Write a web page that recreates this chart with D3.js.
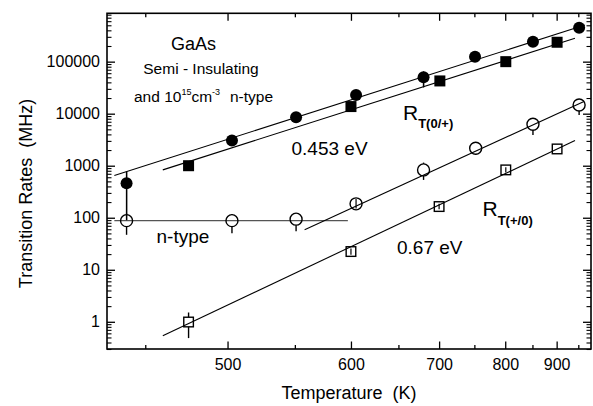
<!DOCTYPE html>
<html>
<head>
<meta charset="utf-8">
<script src="https://cdn.jsdelivr.net/npm/d3@7"></script>
<style>
  html, body { margin: 0; padding: 0; background: #fff; }
  svg { display: block; }
  text { font-family: "Liberation Sans", Arial, Helvetica, sans-serif; fill: #000; }
</style>
</head>
<body>
<svg id="chart" width="593" height="406"></svg>
<script>
// ---------- data (temperature in K, rates in MHz) ----------
const siCircleT    = [440, 503, 551, 605, 680, 751, 851, 952];
const siCircleRate = [460, 3040, 8550, 22900, 50100, 124800, 242000, 450000];
const siCircleLo   = [90, null, null, null, 32200, null, null, null];
const siCircleHi   = [771, null, null, null, 64300, null, null, null];

const siSquareT    = [475, 600, 701, 801, 901];
const siSquareRate = [1000, 13700, 42600, 100000, 236000];
const siSquareLo   = [860, null, null, null, null];
const siSquareHi   = [1000, null, null, null, null];

const nCircleT     = [440, 503, 551, 605, 680, 752, 851, 952];
const nCircleRate  = [88, 88, 94, 185, 831, 2170, 6270, 14700];
const nCircleLo    = [47, 50.6, 55, 150, 533, 1615, 3910, 9460];
const nCircleHi    = [120, 118.6, 120, 230, 1148, 2710, 7830, 19000];

const nSquareT     = [475, 600, 700, 801, 901];
const nSquareRate  = [0.99, 22.4, 164, 831, 2100];
const nSquareLo    = [0.486, 19.5, 145, 740, null];
const nSquareHi    = [1.51, 25.5, 185, 930, null];

// fit lines: [T start, T end], [rate start, rate end]
const fitSICircleT = [433.7, 966.5], fitSICircleR = [646, 507000];
const fitSISquareT = [459.8, 942],   fitSISquareR = [831, 281000];
const fitNFlatT    = [433.7, 597],   fitNFlatR    = [88, 88];
const fitNCircleT  = [558.1, 964],   fitNCircleR  = [58.5, 17200];
const fitNSquareT  = [459.8, 942],   fitNSquareR  = [0.538, 3040];

const xTickMajor = [500, 600, 700, 800, 900];
const xTickMinor = [450, 550, 650, 750, 850, 950];
const yTickMajor = [1, 10, 100, 1000, 10000, 100000];

// ---------- layout ----------
const svg = d3.select("#chart");
const L = 107, R = 591, T = 13.3, B = 349;

// x is linear in 1/T (Arrhenius), labelled in temperature
const xInv = d3.scaleLinear().domain([1/430, 1/982]).range([L, R]);
const x = t => xInv(1 / t);
const y = d3.scaleLog().domain([0.3, 850000]).range([B, T]);

// minor y ticks
const yMinor = [];
for (let e = -1; e <= 5; e++) {
  for (let m = 2; m <= 9; m++) {
    const v = m * Math.pow(10, e);
    if (v >= 0.3 && v <= 850000) yMinor.push(v);
  }
}

const g = svg.append("g");
const FONT = '"Liberation Sans", Arial, sans-serif';

// ---------- axes (ticks inward) ----------
g.append("g").attr("transform", `translate(${L},0)`)
  .call(d3.axisLeft(y).tickValues(yTickMajor).tickSize(-8).tickPadding(7)
    .tickFormat(d3.format("d")))
  .call(s => s.select(".domain").remove())
  .call(s => s.selectAll("line").attr("stroke-width", 1.3))
  .call(s => s.selectAll("text").attr("font-size", "16px").attr("font-family", FONT));
g.append("g").attr("transform", `translate(${L},0)`)
  .call(d3.axisLeft(y).tickValues(yMinor).tickSize(-4.5).tickFormat(""))
  .call(s => s.select(".domain").remove())
  .call(s => s.selectAll("line").attr("stroke-width", 1.1));

g.append("g").attr("transform", `translate(${R},0)`)
  .call(d3.axisRight(y).tickValues(yTickMajor).tickSize(-8).tickFormat(""))
  .call(s => s.select(".domain").remove())
  .call(s => s.selectAll("line").attr("stroke-width", 1.3));
g.append("g").attr("transform", `translate(${R},0)`)
  .call(d3.axisRight(y).tickValues(yMinor).tickSize(-4.5).tickFormat(""))
  .call(s => s.select(".domain").remove())
  .call(s => s.selectAll("line").attr("stroke-width", 1.1));

// bottom / top axes on 1/T scale
const invMajor = xTickMajor.map(t => 1 / t);
const invMinor = xTickMinor.map(t => 1 / t);
g.append("g").attr("transform", `translate(0,${B})`)
  .call(d3.axisBottom(xInv).tickValues(invMajor).tickSize(-7.5).tickPadding(9.5)
    .tickFormat((d, i) => xTickMajor[i]))
  .call(s => s.select(".domain").remove())
  .call(s => s.selectAll("line").attr("stroke-width", 1.3))
  .call(s => s.selectAll("text").attr("font-size", "16px").attr("font-family", FONT));
g.append("g").attr("transform", `translate(0,${B})`)
  .call(d3.axisBottom(xInv).tickValues(invMinor).tickSize(-4).tickFormat(""))
  .call(s => s.select(".domain").remove())
  .call(s => s.selectAll("line").attr("stroke-width", 1.3));
g.append("g").attr("transform", `translate(0,${T})`)
  .call(d3.axisTop(xInv).tickValues(invMajor).tickSize(-7.5).tickFormat(""))
  .call(s => s.select(".domain").remove())
  .call(s => s.selectAll("line").attr("stroke-width", 1.3));
g.append("g").attr("transform", `translate(0,${T})`)
  .call(d3.axisTop(xInv).tickValues(invMinor).tickSize(-4).tickFormat(""))
  .call(s => s.select(".domain").remove())
  .call(s => s.selectAll("line").attr("stroke-width", 1.3));

// frame
g.append("rect").attr("x", L).attr("y", T).attr("width", R - L).attr("height", B - T)
  .attr("fill", "none").attr("stroke", "#000").attr("stroke-width", 1.6);

// ---------- fit lines ----------
const fits = [
  [fitSICircleT, fitSICircleR, "#000"],
  [fitSISquareT, fitSISquareR, "#000"],
  [fitNFlatT, fitNFlatR, "#555"],
  [fitNCircleT, fitNCircleR, "#000"],
  [fitNSquareT, fitNSquareR, "#000"]
];
const line = d3.line().x(d => x(d[0])).y(d => y(d[1]));
fits.forEach(([ts, rs, c]) => {
  g.append("path").datum(ts.map((t, i) => [t, rs[i]]))
    .attr("d", line).attr("fill", "none").attr("stroke", c).attr("stroke-width", 1.1);
});

// ---------- error bars (drawn from symbol edge outward, Origin style) ----------
function errBars(ts, vals, lo, hi, gap) {
  ts.forEach((t, i) => {
    if (lo[i] == null) return;
    const cy = y(vals[i]);
    const yl = y(lo[i]), yh = y(hi[i]);
    if (yl > cy + gap)
      g.append("line").attr("x1", x(t)).attr("x2", x(t)).attr("y1", cy + gap).attr("y2", yl)
        .attr("stroke", "#000").attr("stroke-width", 1.4);
    if (yh < cy - gap)
      g.append("line").attr("x1", x(t)).attr("x2", x(t)).attr("y1", cy - gap).attr("y2", yh)
        .attr("stroke", "#000").attr("stroke-width", 1.4);
    if (gap === 0 || (yl <= cy + gap && yh >= cy - gap))
      g.append("line").attr("x1", x(t)).attr("x2", x(t)).attr("y1", yl).attr("y2", yh)
        .attr("stroke", "#000").attr("stroke-width", 1.2);
  });
}
errBars(siCircleT, siCircleRate, siCircleLo, siCircleHi, 0);
errBars(siSquareT, siSquareRate, siSquareLo, siSquareHi, 0);
errBars(nCircleT, nCircleRate, nCircleLo, nCircleHi, 6);
errBars(nSquareT, nSquareRate, nSquareLo, nSquareHi, 4.8);

// ---------- markers ----------
g.selectAll(".fc").data(siCircleT).join("circle")
  .attr("cx", d => x(d)).attr("cy", (d, i) => y(siCircleRate[i])).attr("r", 6)
  .attr("fill", "#000");
g.selectAll(".fs").data(siSquareT).join("rect")
  .attr("x", d => x(d) - 5.5).attr("y", (d, i) => y(siSquareRate[i]) - 5.5)
  .attr("width", 11).attr("height", 11).attr("fill", "#000");
g.selectAll(".oc").data(nCircleT).join("circle")
  .attr("cx", d => x(d)).attr("cy", (d, i) => y(nCircleRate[i])).attr("r", 6)
  .attr("fill", "none").attr("stroke", "#000").attr("stroke-width", 1.4);
g.selectAll(".os").data(nSquareT).join("rect")
  .attr("x", d => x(d) - 4.8).attr("y", (d, i) => y(nSquareRate[i]) - 4.8)
  .attr("width", 9.6).attr("height", 9.6)
  .attr("fill", "none").attr("stroke", "#000").attr("stroke-width", 1.4);

// ---------- annotations ----------
g.append("text").attr("x", 193.5).attr("y", 50).attr("text-anchor", "middle")
  .attr("font-size", "18px").text("GaAs");
g.append("text").attr("x", 201).attr("y", 74).attr("text-anchor", "middle")
  .attr("font-size", "15.5px").text("Semi - Insulating");
const t3 = g.append("text").attr("x", 134).attr("y", 101.5).attr("font-size", "15.5px");
t3.append("tspan").text("and 10");
t3.append("tspan").attr("font-size", "9px").attr("dy", -7).text("15");
t3.append("tspan").attr("dy", 7).text("cm");
t3.append("tspan").attr("font-size", "9px").attr("dy", -7).text("-3");
t3.append("tspan").attr("x", 230).attr("dy", 7).text("n-type");

g.append("text").attr("x", 291.5).attr("y", 154.5).attr("font-size", "19px").text("0.453 eV");
const r1 = g.append("text").attr("x", 403).attr("y", 120).attr("font-size", "21px");
r1.append("tspan").text("R");
r1.append("tspan").attr("font-size", "13px").attr("font-weight", "bold").attr("dy", 8).text("T(0/+)");

g.append("text").attr("x", 156.5).attr("y", 242.5).attr("font-size", "19px").text("n-type");
const r2 = g.append("text").attr("x", 482.5).attr("y", 215.5).attr("font-size", "21px");
r2.append("tspan").text("R");
r2.append("tspan").attr("font-size", "13px").attr("font-weight", "bold").attr("dy", 9.5).text("T(+/0)");
g.append("text").attr("x", 397).attr("y", 254).attr("font-size", "19px").text("0.67 eV");

// axis titles
g.append("text").attr("x", 349).attr("y", 399).attr("text-anchor", "middle")
  .attr("font-size", "18px").attr("xml:space", "preserve").text("Temperature  (K)");
g.append("text").attr("transform", "translate(32,193.5) rotate(-90)")
  .attr("text-anchor", "middle").attr("font-size", "18px")
  .attr("xml:space", "preserve").text("Transition Rates  (MHz)");
</script>
</body>
</html>
